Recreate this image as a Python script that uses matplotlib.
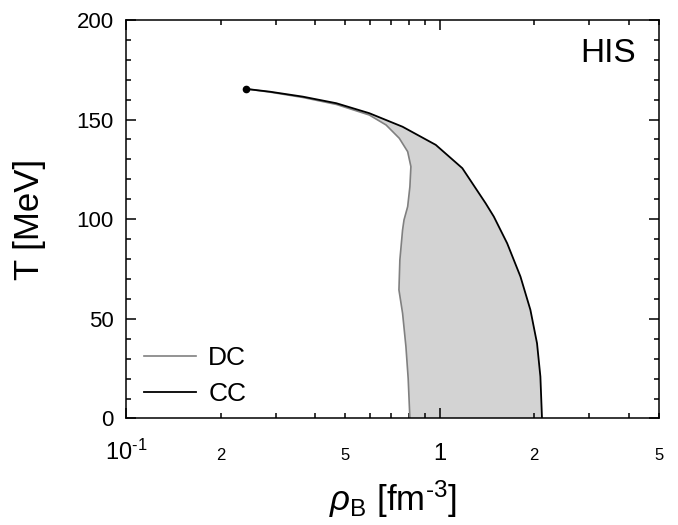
import numpy as np
import matplotlib
matplotlib.use("Agg")
import matplotlib.pyplot as plt
from matplotlib.ticker import FixedLocator, FixedFormatter

plt.rcParams['font.family'] = ['Liberation Sans', 'DejaVu Sans']
plt.rcParams['mathtext.fontset'] = 'custom'
plt.rcParams['mathtext.rm'] = 'Liberation Sans'
plt.rcParams['mathtext.it'] = 'Liberation Sans:italic'

# critical end point
cep_rho = 0.241
cep_T = 165.4

# CC (black) boundary, rho_B [fm^-3] vs T [MeV]
cc_rho = [0.241, 0.287, 0.366, 0.468, 0.596, 0.761, 0.971, 1.180, 1.400, 1.487,
          1.640, 1.808, 1.945, 2.042, 2.093, 2.118]
cc_T = [165.4, 164.0, 161.5, 158.2, 153.2, 146.4, 137.3, 125.6, 108.0, 101.3,
        87.9, 71.2, 54.5, 37.7, 21.0, 0.0]

# DC (gray) boundary
dc_rho = [0.241, 0.287, 0.366, 0.468, 0.596, 0.674, 0.743, 0.790, 0.809, 0.803,
          0.790, 0.769, 0.761, 0.746, 0.741, 0.761, 0.780, 0.793, 0.803]
dc_T = [165.4, 163.8, 161.1, 157.6, 152.3, 147.3, 140.6, 133.9, 126.4, 116.3,
        106.3, 99.6, 94.6, 79.5, 64.5, 52.8, 36.0, 20.0, 0.0]

# tick labels
major_x = [0.1, 1.0]
major_x_labels = [r'10$^{\text{-}1}$', '1']
minor_x = [0.2, 0.3, 0.4, 0.5, 0.6, 0.7, 0.8, 0.9, 2.0, 3.0, 4.0, 5.0]
minor_x_labels = ['2', '', '', '5', '', '', '', '', '2', '', '', '5']

fig = plt.figure(figsize=(6.78, 5.25), dpi=100)
ax = fig.add_axes([0.186, 0.203, 0.786, 0.759])

# shaded region between the two boundaries
ax.fill(np.concatenate([cc_rho, dc_rho[::-1]]), np.concatenate([cc_T, dc_T[::-1]]),
        color='#d3d3d3', lw=0)
ax.plot(dc_rho, dc_T, color='#808080', lw=1.2, label='DC')
ax.plot(cc_rho, cc_T, color='black', lw=1.3, label='CC')
ax.plot([cep_rho], [cep_T], 'o', color='black', ms=4.5)

ax.set_xscale('log')
ax.set_xlim(0.1, 5)
ax.set_ylim(0, 200)

ax.xaxis.set_major_locator(FixedLocator(major_x))
ax.xaxis.set_major_formatter(FixedFormatter(major_x_labels))
ax.xaxis.set_minor_locator(FixedLocator(minor_x))
ax.xaxis.set_minor_formatter(FixedFormatter(minor_x_labels))
ax.set_yticks([0, 50, 100, 150, 200])
ax.set_yticks(np.arange(0, 201, 10), minor=True)

ax.tick_params(which='both', direction='in', top=True, right=True, width=1.1)
ax.tick_params(which='major', length=7, labelsize=16)
ax.tick_params(axis='y', which='major', pad=9)
ax.tick_params(axis='x', which='major', pad=30, labelsize=17)
ax.tick_params(axis='x', which='minor', length=3.5, labelsize=12, pad=30)
ax.tick_params(axis='y', which='minor', length=3.5)
for s in ax.spines.values():
    s.set_linewidth(1.1)

# put all x tick labels on one baseline
for t in ax.xaxis.get_major_ticks() + ax.xaxis.get_minor_ticks():
    t.label1.set_verticalalignment('baseline')

ax.set_xlabel(r'$\rho_{\rm B}$ [fm$^{\text{-}3}$]', fontsize=25, labelpad=10)
ax.set_ylabel('T [MeV]', fontsize=25, labelpad=22)

ax.text(0.957, 0.955, 'HIS', transform=ax.transAxes, ha='right', va='top', fontsize=24)

ax.legend(loc='lower left', frameon=False, fontsize=19, handlelength=2.0,
          handletextpad=0.45, labelspacing=0.45, borderaxespad=0.3,
          bbox_to_anchor=(-0.002, -0.016))

fig.savefig('out.png', dpi=100)
